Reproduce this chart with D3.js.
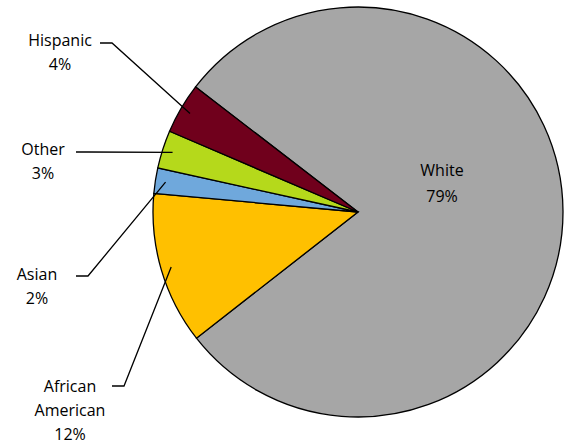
<!DOCTYPE html>
<html><head><meta charset="utf-8">
<script src="https://cdn.jsdelivr.net/npm/d3@7"></script>
<style>body{margin:0;background:#fff}text{font-family:"Open Sans","Liberation Sans",sans-serif;font-size:16px;fill:#000}</style>
</head><body><div id="chart"></div>
<script>
var categories = ["White", "African American", "Asian", "Other", "Hispanic"];
var values = [79, 12, 2, 3, 4];
var colors = ["#A6A6A6", "#FFC000", "#6FA8DC", "#B5D91B", "#70001C"];

var width = 568, height = 447, cx = 358, cy = 212, r = 205;
var svg = d3.select("#chart").append("svg").attr("width", width).attr("height", height);
var g = svg.append("g").attr("transform", "translate(" + cx + "," + cy + ")");

var a0 = -52.4 * Math.PI / 180;
var pie = d3.pie().sort(null).startAngle(a0).endAngle(a0 + 2 * Math.PI);
var arcs = pie(values);
var arc = d3.arc().innerRadius(0).outerRadius(r);

g.selectAll("path").data(arcs).enter().append("path")
	.attr("d", arc)
	.attr("fill", (d, i) => colors[i])
	.attr("stroke", "#000").attr("stroke-width", 1.3);

var labels = [
	null,
	{lines: ["African", "American"], x: 70, y: 392, lx: 112, ly: 386},
	{lines: ["Asian"], x: 37, y: 280, lx: 76, ly: 276},
	{lines: ["Other"], x: 43, y: 155, lx: 76, ly: 152},
	{lines: ["Hispanic"], x: 60, y: 46, lx: 100, ly: 43}
];

arcs.forEach(function(d, i) {
	var pct = values[i] + "%";
	if (i === 0) {
		var t = svg.append("text").attr("text-anchor", "middle");
		t.append("tspan").attr("x", 442).attr("y", 176).text(categories[i]);
		t.append("tspan").attr("x", 442).attr("y", 202).text(pct);
		return;
	}
	var L = labels[i];
	var t2 = svg.append("text").attr("text-anchor", "middle");
	L.lines.concat([pct]).forEach(function(s, k) {
		t2.append("tspan").attr("x", L.x).attr("y", L.y + k * 24).text(s);
	});
	var mid = (d.startAngle + d.endAngle) / 2;
	var px = cx + 0.95 * r * Math.sin(mid), py = cy - 0.95 * r * Math.cos(mid);
	svg.append("polyline")
		.attr("points", [[L.lx, L.ly], [L.lx + 12, L.ly], [px, py]].map(p => p.join(",")).join(" "))
		.attr("fill", "none").attr("stroke", "#000").attr("stroke-width", 1.3);
});
</script></body></html>
